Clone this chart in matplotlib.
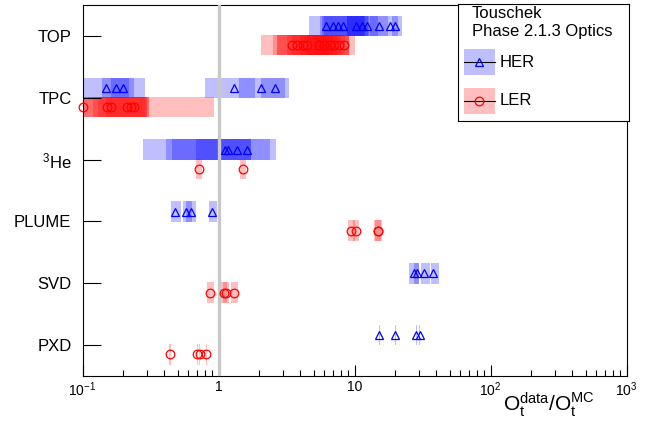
import numpy as np
import matplotlib
matplotlib.use('Agg')
import matplotlib.pyplot as plt
from matplotlib.patches import Rectangle
from matplotlib.ticker import LogLocator, NullFormatter

plt.rcParams['font.family'] = ['Liberation Sans', 'DejaVu Sans']
plt.rcParams['mathtext.fontset'] = 'custom'
plt.rcParams['mathtext.rm'] = 'Liberation Sans'
plt.rcParams['mathtext.it'] = 'Liberation Sans:italic'
plt.rcParams['mathtext.bf'] = 'Liberation Sans:bold'

# detectors from bottom to top
detectors = ['PXD', 'SVD', 'PLUME', 'He3', 'TPC', 'TOP']
det_labels = ['PXD', 'SVD', 'PLUME', '$^{3}$He', 'TPC', 'TOP']

# data/MC ratio and its lower/upper bounds, HER
her_ratio = {
    'TOP': [6.2, 7.0, 7.6, 8.2, 10.3, 11.3, 12.3, 15.2, 18.2, 20.0],
    'TPC': [0.150, 0.175, 0.199, 1.30, 2.04, 2.6],
    'He3': [1.11, 1.18, 1.36, 1.63],
    'PLUME': [0.48, 0.58, 0.63, 0.90],
    'SVD': [27.3, 28.9, 32.7, 37.9],
    'PXD': [15.2, 20.0, 28.4, 30.2],
}
her_low = {
    'TOP': [4.6, 5.6, 5.8, 6.0, 8.8, 8.8, 9.5, 13.0, 14.0, 19.0],
    'TPC': [0.08, 0.139, 0.161, 0.79, 1.41, 2.04],
    'He3': [0.28, 0.41, 0.68, 0.457],
    'PLUME': [0.45, 0.55, 0.58, 0.85],
    'SVD': [25.0, 27.3, 31.0, 36.6],
    'PXD': [15.05, 19.8, 28.1, 29.9],
}
her_high = {
    'TOP': [9.5, 12.7, 11.7, 12.0, 12.5, 15.0, 14.0, 17.5, 22.4, 21.0],
    'TPC': [0.238, 0.287, 0.219, 1.87, 3.29, 3.1],
    'He3': [2.66, 2.41, 1.72, 1.72],
    'PLUME': [0.53, 0.64, 0.68, 0.97],
    'SVD': [29.6, 29.6, 35.7, 41.6],
    'PXD': [15.35, 20.2, 28.7, 30.5],
}

# same for LER
ler_ratio = {
    'TOP': [3.5, 3.8, 4.2, 4.5, 5.5, 6.0, 6.6, 7.1, 7.7, 8.4],
    'TPC': [0.10, 0.152, 0.163, 0.213, 0.228, 0.241],
    'He3': [0.72, 1.51],
    'PLUME': [9.5, 10.3, 14.8, 15.0],
    'SVD': [0.87, 1.10, 1.14, 1.30],
    'PXD': [0.44, 0.70, 0.73, 0.81],
}
ler_low = {
    'TOP': [2.04, 2.5, 2.7, 2.7, 3.2, 3.5, 4.0, 4.5, 5.0, 6.0],
    'TPC': [0.05, 0.09, 0.10, 0.12, 0.13, 0.15],
    'He3': [0.68, 1.43],
    'PLUME': [9.0, 9.8, 14.0, 14.2],
    'SVD': [0.83, 1.05, 1.08, 1.23],
    'PXD': [0.436, 0.694, 0.724, 0.803],
}
ler_high = {
    'TOP': [6.0, 6.5, 7.0, 7.5, 8.0, 8.5, 9.1, 9.1, 9.1, 10.0],
    'TPC': [0.92, 0.30, 0.307, 0.30, 0.29, 0.307],
    'He3': [0.76, 1.59],
    'PLUME': [10.0, 10.8, 15.6, 15.8],
    'SVD': [0.92, 1.16, 1.20, 1.38],
    'PXD': [0.444, 0.706, 0.736, 0.817],
}

fig = plt.figure(figsize=(6.6, 4.21), dpi=100)
ax = fig.add_axes([82.5 / 660, 45 / 421, 544 / 660, 371 / 421])

rings = [
    (her_ratio, her_low, her_high, 0.16, 'blue', '^'),
    (ler_ratio, ler_low, ler_high, -0.15, 'red', 'o'),
]

for i, det in enumerate(detectors):
    ycat = i + 0.5
    for ratio, low, high, dy, col, mk in rings:
        r = np.array(ratio[det])
        lo = np.array(low[det])
        hi = np.array(high[det])
        yy = np.full(len(r), ycat + dy)
        for k in range(len(r)):
            ax.barh(yy[k], hi[k] - lo[k], left=lo[k], height=0.33,
                    color=col, alpha=0.25, linewidth=0, zorder=1)
        ax.plot(r, yy, ls='none', marker=mk, mfc='none', mec=col,
                ms=6.2, mew=0.9, zorder=4, clip_on=False)

ax.axvline(1, color='#c8c8c8', lw=2.4, zorder=3)

ax.set_xscale('log')
ax.set_xlim(0.1, 1000)
ax.set_ylim(0, 6)
ax.set_yticks(np.arange(len(detectors)) + 0.5, det_labels)
ax.set_xticks([0.1, 1, 10, 100, 1000],
              ['$10^{-1}$', '1', '10', '$10^{2}$', '$10^{3}$'])
ax.xaxis.set_minor_locator(LogLocator(base=10, subs=np.arange(2, 10)))
ax.xaxis.set_minor_formatter(NullFormatter())
ax.tick_params(axis='x', which='major', direction='in', length=8, width=0.8,
               labelsize=10, pad=3)
ax.tick_params(axis='x', which='minor', direction='in', length=4.5, width=0.8)
ax.tick_params(axis='y', direction='in', length=13, width=0.8,
               labelsize=12, pad=8)
for s in ax.spines.values():
    s.set_linewidth(0.8)

fig.text(595 / 660, 10 / 421, r'$\mathrm{O_{t}^{data}/O_{t}^{MC}}$',
         ha='right', va='baseline', fontsize=15)

# legend box
lax = fig.add_axes([458 / 660, 300 / 421, 171 / 660, 117 / 421])
lax.set_xlim(0, 1)
lax.set_ylim(0, 1)
lax.set_xticks([])
lax.set_yticks([])
for s in lax.spines.values():
    s.set_linewidth(0.8)
lax.text(0.082, 0.923, 'Touschek', va='center', fontsize=12)
lax.text(0.082, 0.761, 'Phase 2.1.3 Optics', va='center', fontsize=12)
for yc, col, mk, name in [(0.504, 'blue', '^', 'HER'), (0.175, 'red', 'o', 'LER')]:
    lax.add_patch(Rectangle((0.035, yc - 0.111), 0.181, 0.222,
                            color=col, alpha=0.25, linewidth=0))
    lax.plot([0.035, 0.216], [yc, yc], color='black', lw=0.8)
    lax.plot([0.1255], [yc], marker=mk, mfc='none', mec=col, ms=6.2, mew=0.9)
    lax.text(0.246, yc, name, va='center', fontsize=12)

fig.savefig('out.png', dpi=100)
